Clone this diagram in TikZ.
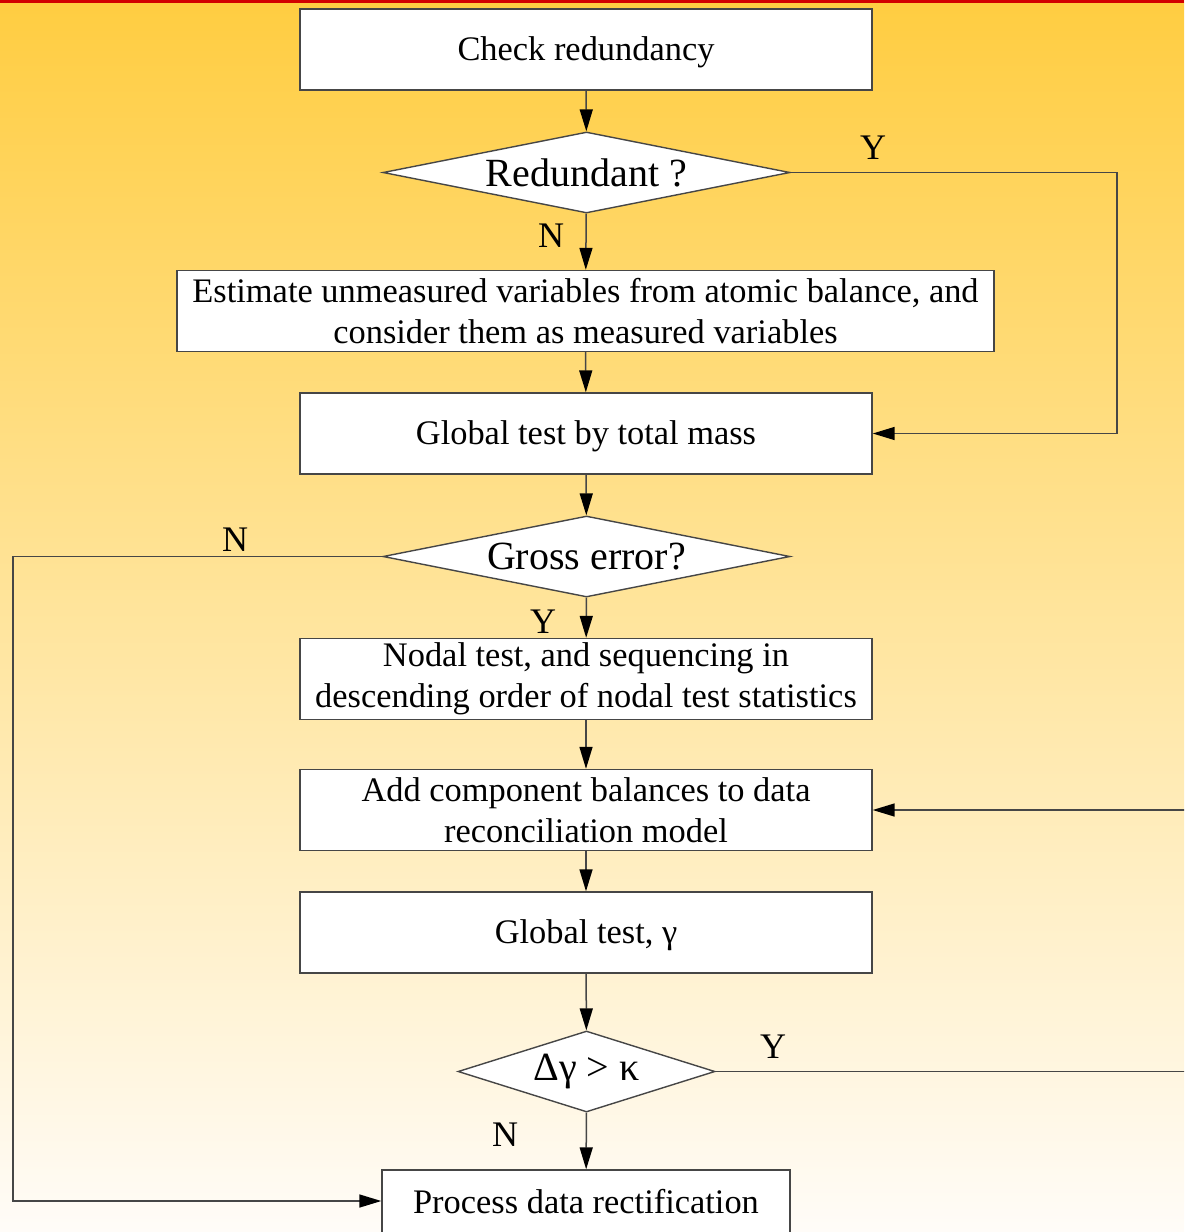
\documentclass[tikz,border=0pt]{standalone}
\usepackage{fontspec}
\setmainfont{Liberation Serif}
\usetikzlibrary{shapes.geometric,arrows.meta}
\definecolor{bgtop}{RGB}{255,205,65}
\definecolor{bgmid}{RGB}{254,229,170}
\definecolor{bgbot}{RGB}{255,252,248}
\definecolor{topred}{RGB}{210,0,0}
\definecolor{edge}{RGB}{70,70,70}
\tikzset{
  procbox/.style={draw=edge, line width=0.7pt, fill=white, rectangle, inner sep=0pt,
    minimum width=286pt, minimum height=40.5pt, align=center,
    font=\fontsize{17.2}{20.6}\selectfont},
  oneline/.style={text height=14pt, text depth=3pt},
  decbox/.style={draw=edge, line width=0.7pt, fill=white, diamond, inner sep=0pt,
    minimum width=203.5pt, minimum height=40.5pt, aspect=5,
    font=\fontsize{20}{24}\selectfont},
  yn/.style={inner sep=0pt, font=\fontsize{18}{21}\selectfont},
  arr/.style={draw=edge, line width=0.75pt, -{Triangle[length=11pt,width=6.5pt,fill=black,color=black]}}
}
\begin{document}
\begin{tikzpicture}[x=0.5pt,y=-0.5pt]
\clip (0,0) rectangle (1184,1232);
\shade[top color=bgtop, middle color=bgmid, bottom color=bgbot] (0,0) rectangle (1184,1232);
\fill[topred] (0,0) rectangle (1184,2.5);

\node[procbox, oneline] (chk) at (586,49.5) {Check redundancy};
\node[decbox] (red) at (586.5,172.5) {Redundant ?};
\node[procbox, minimum width=408.5pt] (est) at (585.5,311) {Estimate unmeasured variables from atomic balance, and\\consider them as measured variables};
\node[procbox, oneline] (glob) at (586,433.5) {Global test by total mass};
\node[decbox] (gross) at (586.5,556.5) {Gross error?};
\node[procbox] (nodal) at (586,679) {Nodal test, and sequencing in\\descending order of nodal test statistics};
\node[procbox] (add) at (586,810) {Add component balances to data\\reconciliation model};
\node[procbox, oneline] (gt) at (586,932.5) {Global test, γ};
\node[decbox, minimum width=128.5pt, aspect=3.2, text height=13pt, text depth=4pt] (dg) at (586.5,1071.5) {Δγ > κ};
\node[procbox, minimum width=204pt, text height=12pt, text depth=9.5pt] (rect) at (586,1210.5) {Process data rectification};

\coordinate (r1) at (1117,300);
\coordinate (l1) at (13,800);
\coordinate (r2) at (1210,900);
\coordinate (rin) at ([yshift=4.75pt]rect.west);

\draw[arr] (chk) -- (red);
\draw[arr] (red) -- (est);
\draw[arr] (est) -- (glob);
\draw[arr] (glob) -- (gross);
\draw[arr] (gross) -- (nodal);
\draw[arr] (nodal) -- (add);
\draw[arr] (add) -- (gt);
\draw[arr] (gt) -- (dg);
\draw[arr] (dg) -- (rect);
\draw[arr] (red.east) -| (r1) |- (glob.east);
\draw[arr] (gross.west) -| (l1) |- (rin);
\draw[arr] (dg.east) -| (r2) |- (add.east);

\node[yn] (ly1) at (873,148) {Y};
\node[yn] (ln1) at (551,236) {N};
\node[yn] (ln2) at (235,540) {N};
\node[yn] (ly2) at (543,622) {Y};
\node[yn] (ly3) at (773,1047) {Y};
\node[yn] (ln3) at (505,1135) {N};
\end{tikzpicture}
\end{document}
